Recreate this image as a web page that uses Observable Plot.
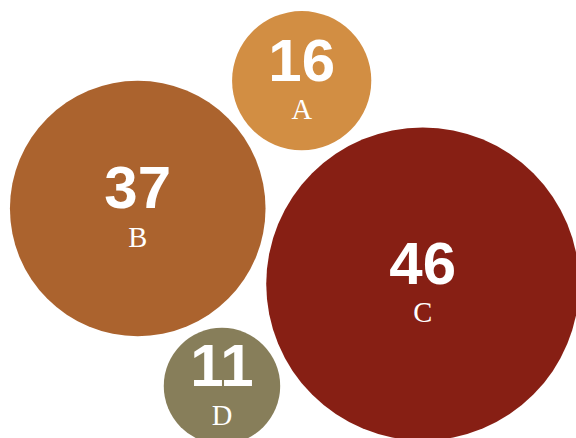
<!DOCTYPE html>
<html>
<head>
<meta charset="utf-8">
<script src="https://cdn.jsdelivr.net/npm/d3@7"></script>
<script src="https://cdn.jsdelivr.net/npm/@observablehq/plot@0.6"></script>
<style>
  html, body { margin: 0; padding: 0; background: #ffffff; overflow: hidden; }
  #chart svg { display: block; }
</style>
</head>
<body>
<div id="chart"></div>
<script>
// ---- data ----
const categories = ["A", "B", "C", "D"];
const values = [16, 37, 46, 11];
const colors = ["#D28E43", "#AB632E", "#871F14", "#877E5A"];

// ---- layout ----
const W = 576, H = 438;
const rOptions = {type: "pow", exponent: 1.3, domain: [0, 46], range: [40.1, 156.5]};
const rScale = Plot.scale({r: rOptions});
const gap = 10.5;                 // white space between neighbouring bubbles
const packOrder = ["B", "C", "A", "D"];
const circles = packOrder.map(k => {
  const i = categories.indexOf(k);
  return {i, r: rScale.apply(values[i]) + gap / 2};
});
d3.packSiblings(circles);

const theta = 14.83 * Math.PI / 180;   // tilt of the packed group
const bubbles = circles.map(c => ({
  category: categories[c.i],
  value: values[c.i],
  x: c.x * Math.cos(theta) + c.y * Math.sin(theta),
  y: c.x * Math.sin(theta) - c.y * Math.cos(theta)
}));
const origin = [293.6, 249.4];          // where the group's centre sits in the frame

const chart = Plot.plot({
  width: W,
  height: H,
  margin: 0,
  style: {background: "#ffffff", overflow: "hidden"},
  x: {domain: [-origin[0], W - origin[0]], range: [0, W], axis: null},
  y: {domain: [-origin[1], H - origin[1]], range: [0, H], axis: null},
  r: rOptions,
  color: {domain: categories, range: colors},
  marks: [
    Plot.dot(bubbles, {x: "x", y: "y", r: "value", fill: "category", stroke: "none", fillOpacity: 1}),
    Plot.text(bubbles, {
      x: "x", y: "y", text: d => String(d.value),
      fill: "white", fontSize: 60, fontWeight: "bold",
      fontFamily: "'Liberation Sans', Arial, sans-serif",
      textAnchor: "middle", lineAnchor: "bottom", dy: 0
    }),
    Plot.text(bubbles, {
      x: "x", y: "y", text: "category",
      fill: "white", fontSize: 28.5,
      fontFamily: "'Liberation Serif', serif",
      textAnchor: "middle", lineAnchor: "bottom", dy: 38.5
    })
  ]
});
document.getElementById("chart").appendChild(chart);
</script>
</body>
</html>
